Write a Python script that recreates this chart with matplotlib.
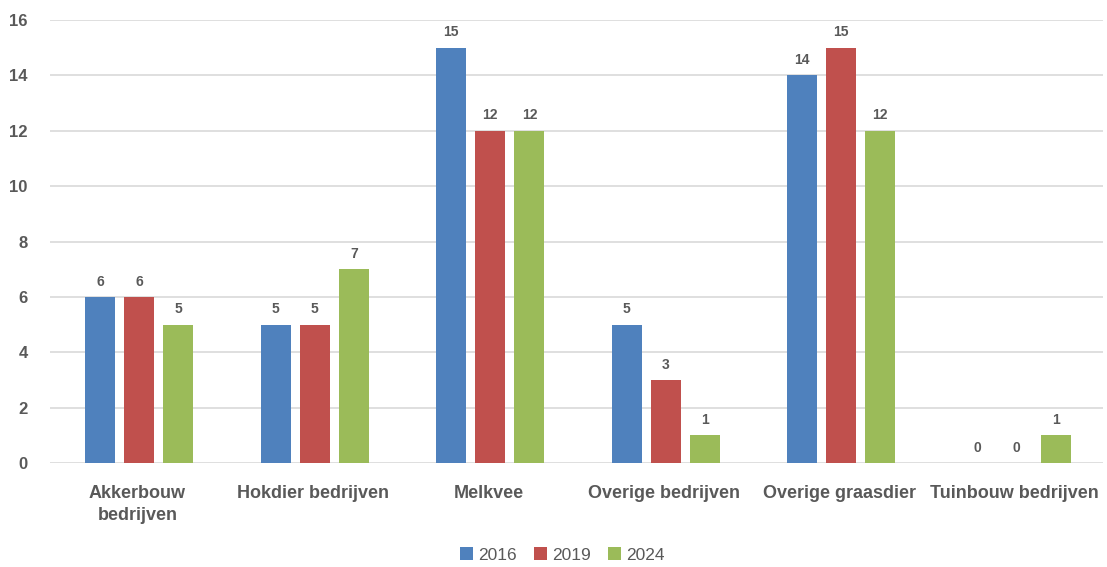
import matplotlib.pyplot as plt
import numpy as np

categories = ["Akkerbouw\nbedrijven", "Hokdier bedrijven", "Melkvee",
              "Overige bedrijven", "Overige graasdier", "Tuinbouw bedrijven"]
years = ["2016", "2019", "2024"]
values_2016 = [6, 5, 15, 5, 14, 0]
values_2019 = [6, 5, 12, 3, 15, 0]
values_2024 = [5, 7, 12, 1, 12, 1]
colors = ["#4F81BD", "#C0504D", "#9BBB59"]

plt.rcParams['font.family'] = ['Liberation Sans', 'DejaVu Sans']
text_color = "#595959"

fig = plt.figure(figsize=(11.07, 5.67), dpi=100)
ax = fig.add_axes([0.045, 0.1834, 0.951, 0.7813])

x = np.arange(len(categories))
width = 0.171
step = 0.223
series = [values_2016, values_2019, values_2024]
for i, (vals, year, col) in enumerate(zip(series, years, colors)):
    bars = ax.bar(x + (i - 1) * step + 0.01, vals, width, color=col, label=year, zorder=3)
    for b, v in zip(bars, vals):
        ax.annotate(str(v), (b.get_x() + b.get_width() / 2, v),
                    xytext=(0, 6), textcoords="offset points",
                    ha="center", va="bottom", fontsize=10,
                    fontweight="bold", color=text_color)

ax.set_xlim(-0.5, len(categories) - 0.5)
ax.set_ylim(0, 16)
ax.set_yticks(range(0, 17, 2))
ax.yaxis.grid(True, color="#D9D9D9", linewidth=1.2, zorder=0)
ax.set_axisbelow(True)
for s in ax.spines.values():
    s.set_visible(False)
ax.tick_params(axis="both", length=0, colors=text_color)
ax.tick_params(axis="y", pad=16)
ax.tick_params(axis="x", pad=16)
ax.set_xticks(x)
ax.set_xticklabels(categories, fontsize=13, fontweight="bold", color=text_color,
                   va="top", linespacing=1.35)
for lbl in ax.get_yticklabels():
    lbl.set_fontsize(12)
    lbl.set_fontweight("bold")

fig.legend(loc="lower center", bbox_to_anchor=(0.508, -0.02), ncol=3, frameon=False,
           fontsize=12.5, handlelength=0.75, handleheight=0.75, columnspacing=1.0,
           handletextpad=0.3, labelcolor=text_color)

fig.savefig("out.png", dpi=100)
